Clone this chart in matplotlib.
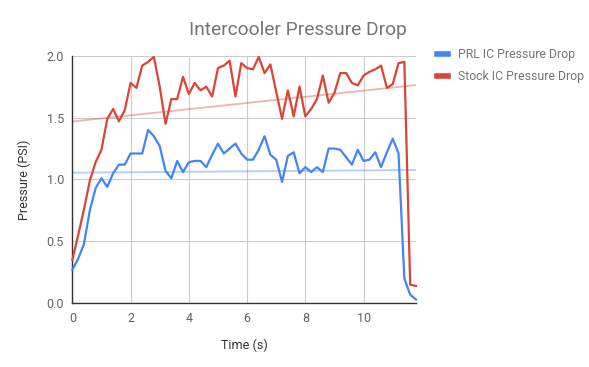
import numpy as np
import matplotlib.pyplot as plt

plt.rcParams['font.family'] = ['Roboto', 'DejaVu Sans']

# sample times (s), 0.2 s apart
time_s = [0.0, 0.2, 0.4, 0.6, 0.8, 1.0, 1.2, 1.4, 1.6, 1.8,
          2.0, 2.2, 2.4, 2.6, 2.8, 3.0, 3.2, 3.4, 3.6, 3.8,
          4.0, 4.2, 4.4, 4.6, 4.8, 5.0, 5.2, 5.4, 5.6, 5.8,
          6.0, 6.2, 6.4, 6.6, 6.8, 7.0, 7.2, 7.4, 7.6, 7.8,
          8.0, 8.2, 8.4, 8.6, 8.8, 9.0, 9.2, 9.4, 9.6, 9.8,
          10.0, 10.2, 10.4, 10.6, 10.8, 11.0, 11.2, 11.4, 11.6, 11.8]

prl_psi = [0.27, 0.36, 0.48, 0.75, 0.93, 1.01, 0.94, 1.05, 1.12, 1.12,
           1.21, 1.21, 1.21, 1.40, 1.35, 1.27, 1.07, 1.01, 1.15, 1.06,
           1.14, 1.15, 1.15, 1.10, 1.20, 1.29, 1.21, 1.25, 1.29, 1.21,
           1.16, 1.16, 1.24, 1.35, 1.20, 1.16, 0.98, 1.19, 1.22, 1.05,
           1.10, 1.06, 1.10, 1.06, 1.25, 1.25, 1.24, 1.18, 1.12, 1.24,
           1.15, 1.16, 1.22, 1.10, 1.22, 1.33, 1.21, 0.20, 0.07, 0.03]

stock_psi = [0.35, 0.55, 0.76, 0.99, 1.14, 1.24, 1.49, 1.57, 1.47, 1.56,
             1.78, 1.74, 1.92, 1.95, 1.99, 1.75, 1.45, 1.65, 1.65, 1.83,
             1.69, 1.78, 1.72, 1.75, 1.67, 1.90, 1.92, 1.96, 1.67, 1.94,
             1.90, 1.89, 1.99, 1.86, 1.93, 1.71, 1.49, 1.72, 1.51, 1.75,
             1.51, 1.57, 1.65, 1.84, 1.62, 1.70, 1.86, 1.86, 1.78, 1.76,
             1.84, 1.87, 1.89, 1.92, 1.74, 1.77, 1.94, 1.95, 0.15, 0.14]

blue = '#4285F4'
red = '#DB4437'
grey_text = '#757575'

fig = plt.figure(figsize=(5.89, 3.67), dpi=100)
ax = fig.add_axes([0.1228, 0.1736, 0.5835, 0.6746])

t = np.array(time_s)
# linear trendlines
for vals, col in [(prl_psi, blue), (stock_psi, red)]:
    k, b = np.polyfit(t, vals, 1)
    ax.plot([t[0], t[-1]], [b, k * t[-1] + b], color=col, alpha=0.4, lw=1.3, zorder=2)

ax.plot(t, prl_psi, color=blue, lw=1.6, label='PRL IC Pressure Drop', zorder=3, clip_on=False)
ax.plot(t, stock_psi, color=red, lw=1.6, label='Stock IC Pressure Drop', zorder=3, clip_on=False)

ax.set_xlim(0, 11.8)
ax.set_ylim(0, 2.0)
ax.set_xticks([0, 2, 4, 6, 8, 10])
ax.set_yticks([0.0, 0.5, 1.0, 1.5, 2.0])
ax.set_yticklabels(['0.0', '0.5', '1.0', '1.5', '2.0'])
ax.grid(True, color='#cccccc', lw=0.8)
ax.set_axisbelow(True)
for s in ['top', 'right']:
    ax.spines[s].set_visible(False)
for s in ['left', 'bottom']:
    ax.spines[s].set_color('#333333')
    ax.spines[s].set_linewidth(1.0)
ax.tick_params(length=0, colors='#616161', labelsize=9, pad=6)

ax.set_xlabel('Time (s)', color='#333333', fontsize=9, labelpad=10)
ax.set_ylabel('Pressure (PSI)', color='#333333', fontsize=9, labelpad=11)
fig.text(0.506, 0.918, 'Intercooler Pressure Drop', ha='center', va='center',
         fontsize=13.8, color=grey_text)

leg = ax.legend(loc='upper left', bbox_to_anchor=(1.03, 1.075), frameon=False,
                fontsize=8.8, handlelength=0.9, handletextpad=0.8, labelspacing=0.75)
for h in leg.get_lines():
    h.set_linewidth(4)
for txt in leg.get_texts():
    txt.set_color(grey_text)

fig.savefig('out.png', dpi=100)
